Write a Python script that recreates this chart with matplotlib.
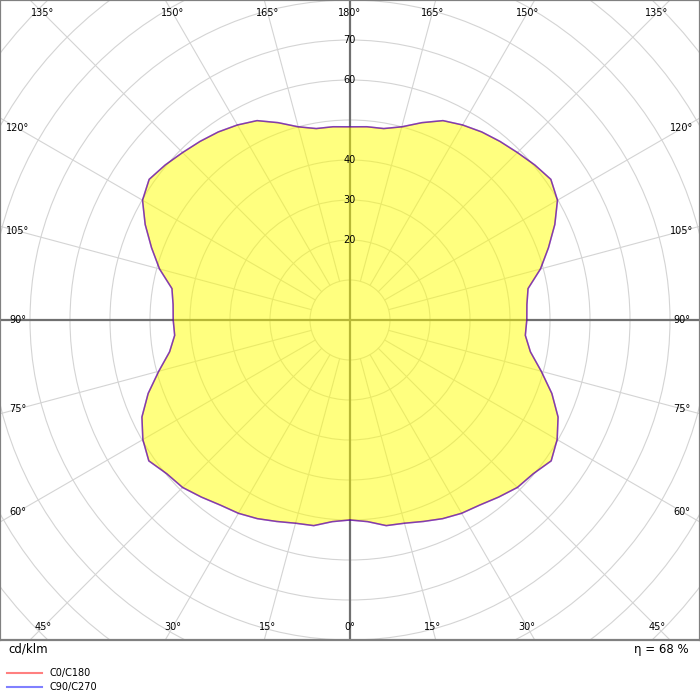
import numpy as np
import matplotlib
matplotlib.use('Agg')
import matplotlib.pyplot as plt
from matplotlib.lines import Line2D
from matplotlib.patches import Circle, Polygon

# luminous intensity distribution, cd/klm, same curve for both C planes
gamma = [0, 5, 10, 15, 20, 25, 30, 35, 40, 45, 50, 55, 60, 65, 70, 75, 80, 85, 90,
         95, 100, 105, 110, 115, 120, 125, 130, 135, 140, 145, 150, 155, 160, 165,
         170, 175, 180]
c0_c180 = [50.0, 50.6, 52.2, 52.6, 53.6, 54.8, 55.8, 56.5, 57.8, 59.2, 59.8, 61.4,
           59.8, 57.4, 53.7, 49.5, 45.8, 44.0, 44.2,
           44.4, 45.2, 49.3, 52.8, 56.5, 59.9, 61.3, 60.3, 59.2, 58.3, 57.4, 56.3,
           55.0, 52.5, 50.0, 48.6, 48.5, 48.3]
c90_c270 = list(c0_c180)

ring_values = [10, 20, 30, 40, 50, 60, 70, 80, 90, 100, 110, 120, 130]
ring_labels = [20, 30, 40, 60, 70]
spoke_angles = list(range(0, 181, 15))
efficiency = 68

fig = plt.figure(figsize=(7, 7), dpi=100)
ax = fig.add_axes([0, 60 / 700, 1, 640 / 700])
ax.set_xlim(-87.5, 87.5)
ax.set_ylim(-80, 80)
ax.set_aspect('equal')
ax.set_xticks([])
ax.set_yticks([])
for s in ax.spines.values():
    s.set_color('#808080')
    s.set_linewidth(1.6)

grid_col = '#d4d4d4'
for r in ring_values:
    ax.add_patch(Circle((0, 0), r, fill=False, ec=grid_col, lw=0.8, zorder=1))

r_in, r_out = ring_values[0], ring_values[-1]
for a in spoke_angles:
    if a in (0, 90, 180):
        continue
    t = np.radians(a)
    for side in (1, -1):
        ax.plot([side * r_in * np.sin(t), side * r_out * np.sin(t)],
                [-r_in * np.cos(t), -r_out * np.cos(t)],
                color=grid_col, lw=0.8, zorder=1)

ax.axhline(0, color='#707070', lw=1.6, zorder=2)
ax.axvline(0, color='#707070', lw=1.6, zorder=2)

# curve (right half from 0 to 180, mirrored on the left)
g = np.radians(gamma)
r1 = np.array(c0_c180)
x = np.concatenate([r1 * np.sin(g), -r1[::-1] * np.sin(g[::-1])])
y = np.concatenate([-r1 * np.cos(g), -r1[::-1] * np.cos(g[::-1])])
ax.add_patch(Polygon(np.column_stack([x, y]), closed=True, fc='#ffff00',
                     alpha=0.5, ec='none', zorder=3))
ax.plot(np.append(x, x[0]), np.append(y, y[0]), color='#ff0000', alpha=0.5,
        lw=1.1, zorder=4)
r2 = np.array(c90_c270)
x2 = np.concatenate([r2 * np.sin(g), -r2[::-1] * np.sin(g[::-1])])
y2 = np.concatenate([-r2 * np.cos(g), -r2[::-1] * np.cos(g[::-1])])
ax.plot(np.append(x2, x2[0]), np.append(y2, y2[0]), color='#0000ff', alpha=0.5,
        lw=1.1, zorder=5)

for v in ring_labels:
    ax.text(-0.2, v, str(v), ha='center', va='center', fontsize=7, zorder=6)

# angle labels along the frame
hx, hy = 83.0, 76.75
for a in spoke_angles:
    t = np.radians(a)
    s, c = np.sin(t), -np.cos(t)
    k = min(hx / abs(s) if abs(s) > 1e-9 else 1e9, hy / abs(c) if abs(c) > 1e-9 else 1e9)
    sides = (1,) if a in (0, 180) else (1, -1)
    for side in sides:
        ax.text(side * k * s, k * c, f'{a}°', ha='center', va='center',
                fontsize=7, zorder=6)

fig.text(8 / 700, 1 - 649 / 700, 'cd/klm', ha='left', va='center', fontsize=8.5)
fig.text(689 / 700, 1 - 649 / 700, f'η = {efficiency} %', ha='right', va='center',
         fontsize=8.5)
fig.add_artist(Line2D([7 / 700, 42 / 700], [1 - 673 / 700] * 2, color='#ff8080',
                      lw=1.5, transform=fig.transFigure))
fig.add_artist(Line2D([7 / 700, 42 / 700], [1 - 687 / 700] * 2, color='#8080ff',
                      lw=1.5, transform=fig.transFigure))
fig.text(50 / 700, 1 - 673 / 700, 'C0/C180', ha='left', va='center', fontsize=7)
fig.text(50 / 700, 1 - 687 / 700, 'C90/C270', ha='left', va='center', fontsize=7)

fig.savefig('out.png', dpi=100)
plt.close()
